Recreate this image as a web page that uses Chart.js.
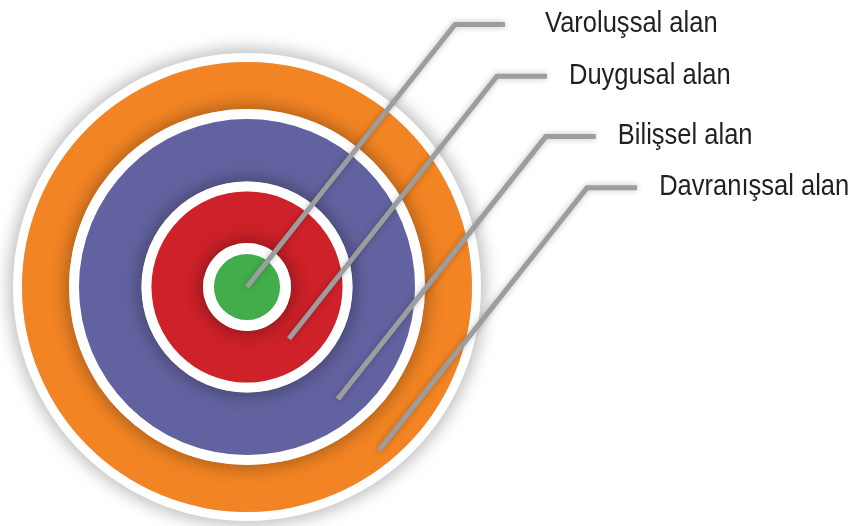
<!DOCTYPE html>
<html>
<head>
<meta charset="utf-8">
<script src="https://cdn.jsdelivr.net/npm/chart.js@4.4.1/dist/chart.umd.min.js"></script>
<style>
  html, body { margin: 0; padding: 0; background: #fff; }
</style>
</head>
<body>
<canvas id="myChart" width="858" height="526"></canvas>
<script>
// outer ring first -> inner disk last
const categories = ['Davranışsal alan', 'Bilişsel alan', 'Duygusal alan', 'Varoluşsal alan'];
const ringValues = [47, 62.5, 51.5, 33];   // band thickness of each area
const gapValues = [9, 10, 10, 11];         // white rim around each area
const ringColors = ['#f28423', '#6262a0', '#ce2129', '#41ae4b'];

// leader line styling
const LINE_COLOR = '#9c9d9f';
const LINE_DX = 208, LINE_DY = -262.5;   // diagonal part of each leader
const LINE_FLAT = 50;                    // horizontal part
const LINE_ANGLE = 51 * Math.PI / 180;   // where the leader sits inside its band
const anchorFrac = [0.68, 0.62, 0.44, 0];
const labelGap = [22, 22, 22, 40];
const TEXT_SQUEEZE = 0.88;               // label font is a narrow face

const datasets = [];
categories.forEach((name, i) => {
    datasets.push({
        label: name + ' (kenar)',
        data: [1],
        backgroundColor: '#ffffff',
        weight: gapValues[i],
        isRim: true
    });
    datasets.push({
        label: name,
        data: [1],
        backgroundColor: ringColors[i],
        weight: ringValues[i],
        isRim: false,
        areaIndex: i
    });
});
// outer datasets must be painted first so inner shadows fall on them
datasets.forEach((ds, k) => { ds.order = datasets.length - k; });

const rimShadow = {
    id: 'rimShadow',
    beforeDatasetDraw(chart, args) {
        const ds = chart.data.datasets[args.index];
        const ctx = chart.ctx;
        ctx.save();
        if (ds.isRim) {
            ctx.shadowColor = 'rgba(0,0,0,0.5)';
            ctx.shadowBlur = 18;
        }
    },
    afterDatasetDraw(chart) {
        chart.ctx.restore();
    }
};

const leaders = {
    id: 'leaders',
    afterDraw(chart) {
        const ctx = chart.ctx;
        const first = chart.getDatasetMeta(0).data[0];
        const cx = first.x, cy = first.y;
        chart.data.datasets.forEach((ds, k) => {
            if (ds.isRim) return;
            const i = ds.areaIndex;
            const arc = chart.getDatasetMeta(k).data[0];
            const r = arc.innerRadius + (arc.outerRadius - arc.innerRadius) * anchorFrac[i];
            const x0 = cx + r * Math.cos(LINE_ANGLE);
            const y0 = cy + r * Math.sin(LINE_ANGLE);
            const x1 = x0 + LINE_DX, y1 = y0 + LINE_DY;
            const x2 = x1 + LINE_FLAT;

            ctx.save();
            ctx.shadowColor = 'rgba(0,0,0,0.25)';
            ctx.shadowBlur = 6;
            ctx.strokeStyle = LINE_COLOR;
            ctx.lineWidth = 5;
            ctx.lineCap = 'butt';
            ctx.lineJoin = 'miter';
            ctx.beginPath();
            ctx.moveTo(x0, y0);
            ctx.lineTo(x1, y1);
            ctx.lineTo(x2, y1);
            ctx.stroke();
            ctx.restore();

            ctx.save();
            ctx.fillStyle = '#231f20';
            ctx.font = "29px 'Liberation Sans', Arial, sans-serif";
            ctx.textBaseline = 'alphabetic';
            ctx.textAlign = 'left';
            ctx.translate(x2 + labelGap[i], y1 + 7.5);
            ctx.scale(TEXT_SQUEEZE, 1);
            ctx.fillText(categories[i], 0, 0);
            ctx.restore();
        });
    }
};

const chart = new Chart(document.getElementById('myChart').getContext('2d'), {
    type: 'doughnut',
    data: {
        labels: ['alan'],
        datasets: datasets
    },
    options: {
        responsive: false,
        animation: false,
        events: [],
        cutout: 0,
        layout: { padding: { left: 13, top: 53, right: 377, bottom: 5 } },
        elements: {
            arc: { borderWidth: 0, offset: 0, hoverOffset: 0, spacing: 0 }
        },
        plugins: {
            legend: { display: false },
            tooltip: { enabled: false }
        }
    },
    plugins: [rimShadow, leaders]
});
</script>
</body>
</html>
